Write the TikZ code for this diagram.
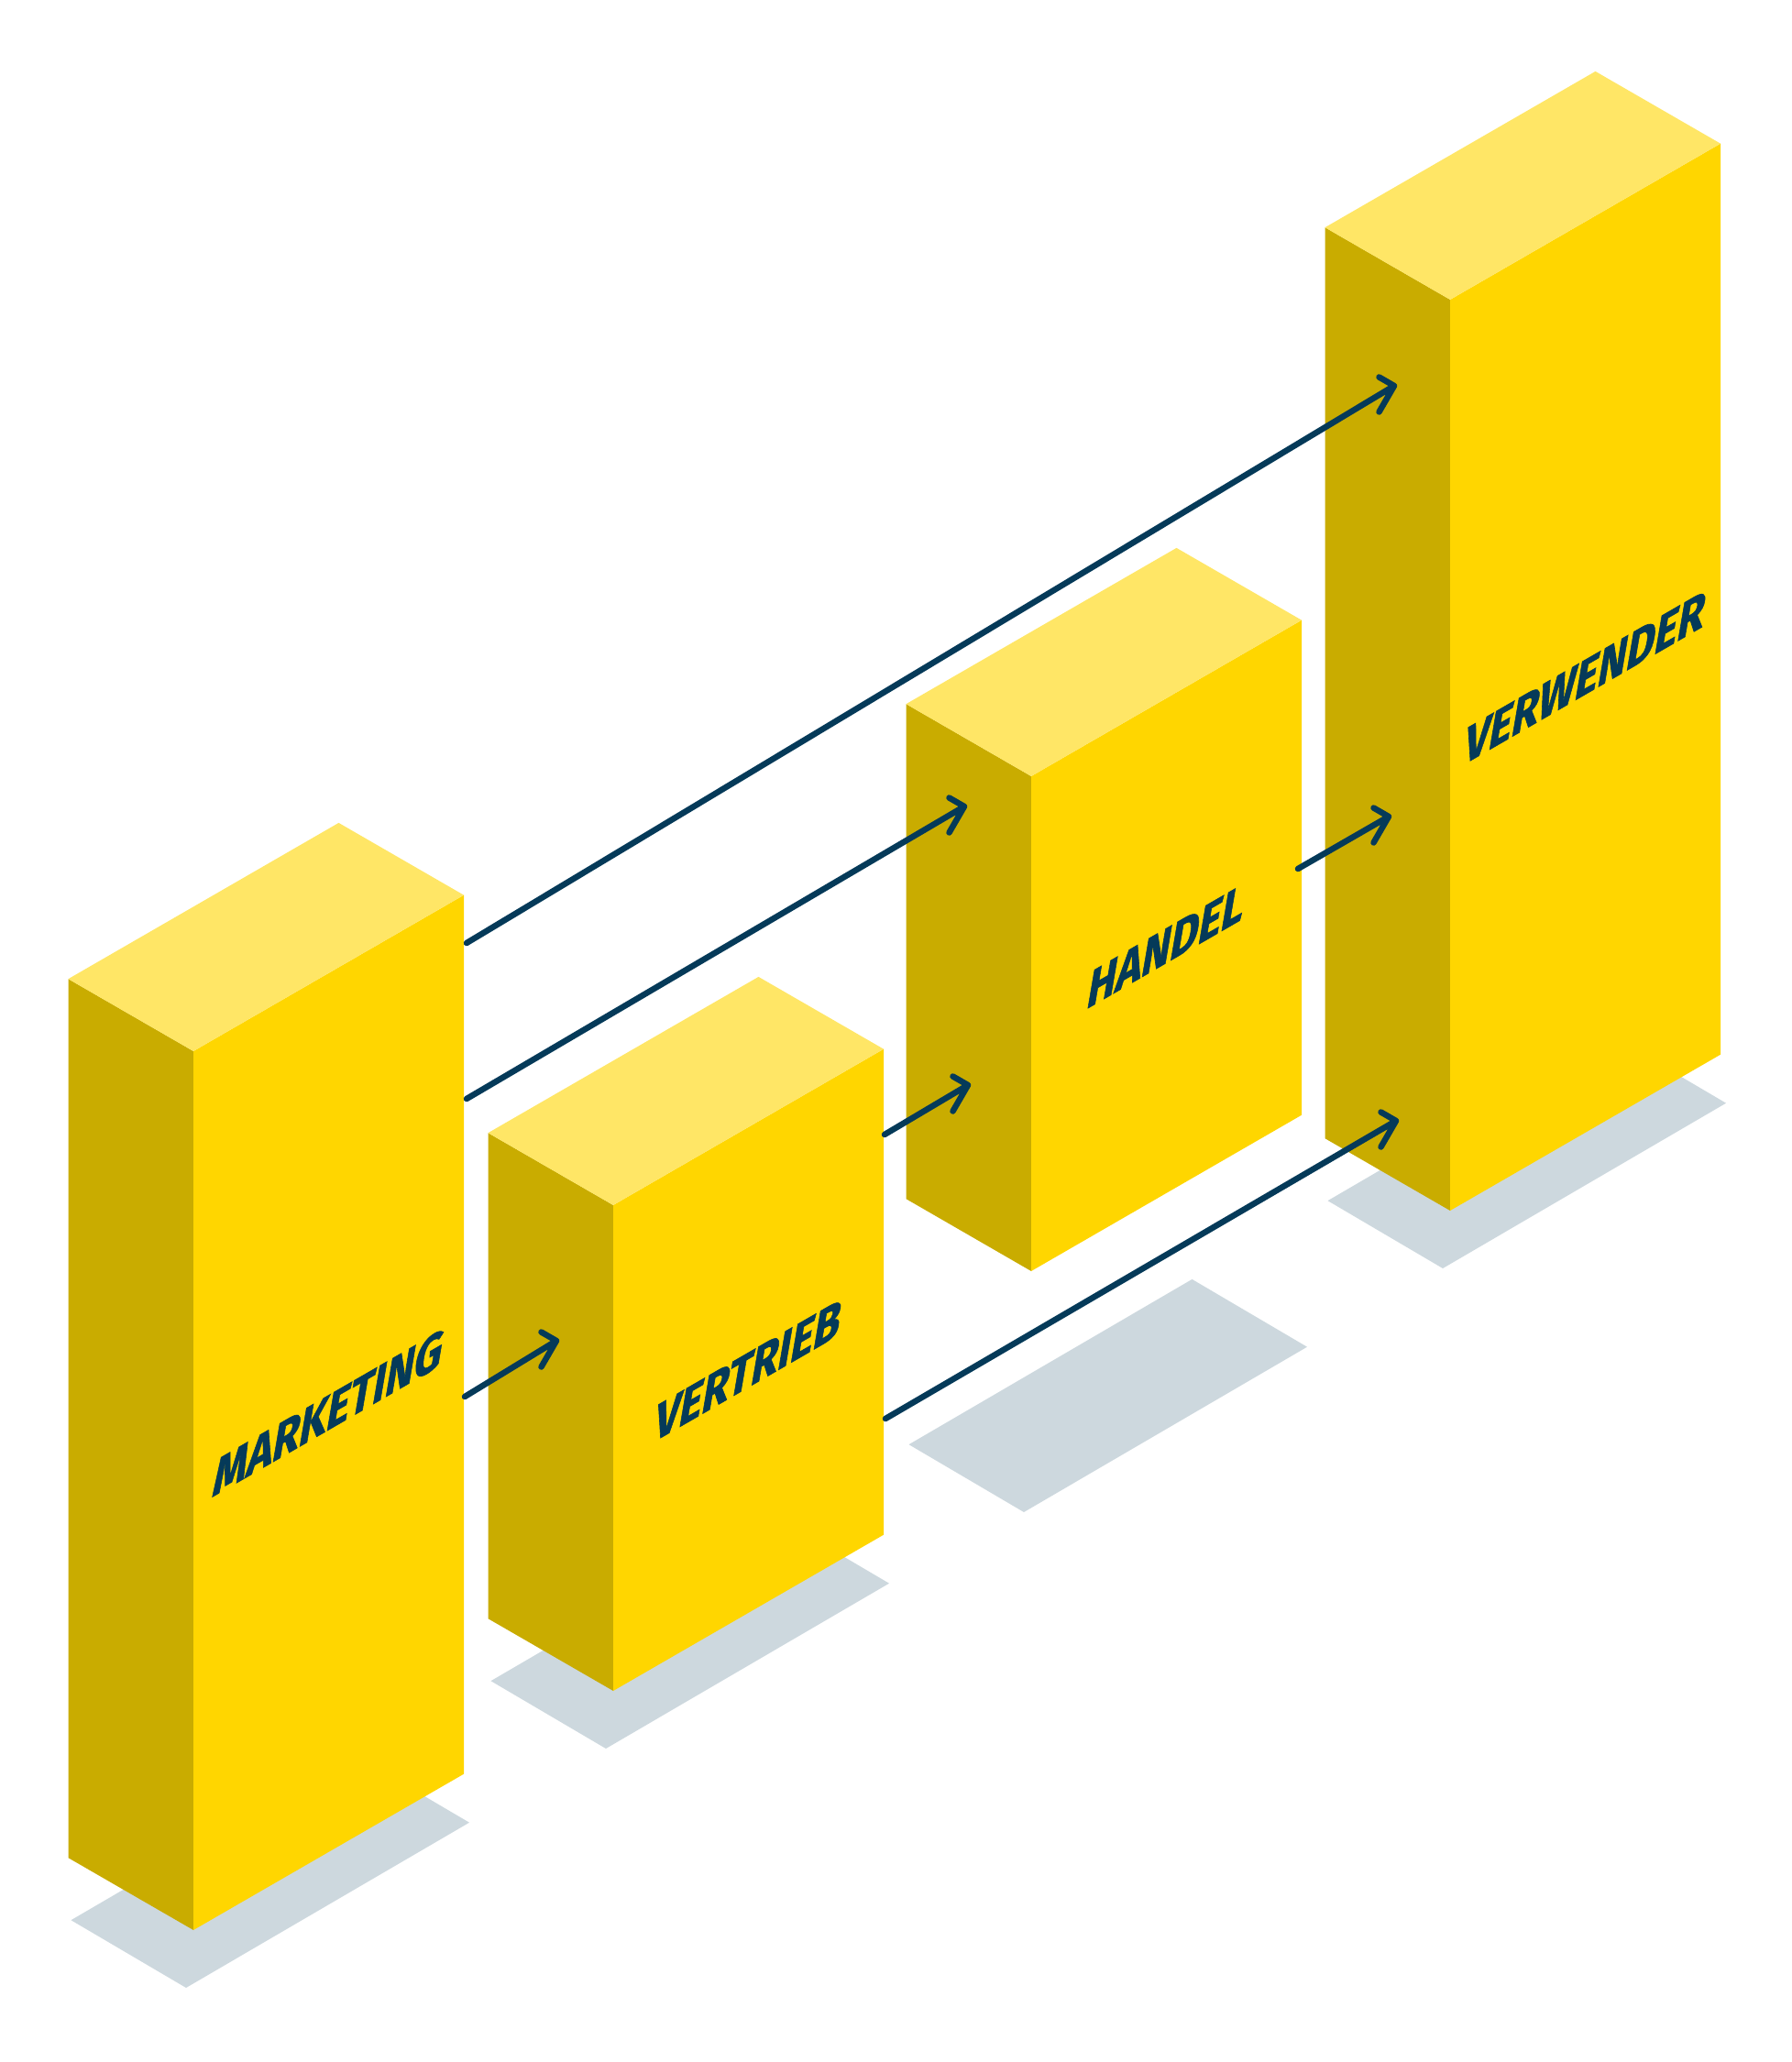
\documentclass[tikz,border=0pt]{standalone}
\usepackage{fontspec}
\setmainfont{Fira Sans}
\newfontfamily\labelfont[BoldFeatures={FakeBold=1.2}]{Fira Sans}
\usepackage{tikz}
\usetikzlibrary{arrows,calc}
\definecolor{boxfront}{RGB}{255,214,0}
\definecolor{boxside}{RGB}{201,172,0}
\definecolor{boxtop}{RGB}{255,230,102}
\definecolor{floorgray}{RGB}{205,216,222}
\definecolor{ink}{RGB}{5,58,89}

% #1 name, #2 top front corner, #3 height, #4 lift above ground, #5 text
\newcommand{\isobox}[5]{%
\begin{scope}[shift={#2}]
\fill[floorgray] ({-1.335},{0.108-#3-#4}) -- ({-0.08},{-0.63-#3-#4}) -- ({3.01},{1.173-#3-#4}) -- ({1.755},{1.911-#3-#4}) -- cycle;
\fill[boxside] (0,0) -- (-1.365,0.788) -- ({-1.365},{0.788-#3}) -- (0,-#3) -- cycle;
\fill[boxfront] (0,0) -- (2.95,1.703) -- ({2.95},{1.703-#3}) -- (0,-#3) -- cycle;
\fill[boxtop] (0,0) -- (-1.365,0.788) -- (1.585,2.491) -- (2.95,1.703) -- cycle;
\begin{scope}[cm={0.866,0.5,0.19,1.11,(1.475,{0.8515-#3/2})}]
\node[boxlabel] (#1) at (0,0) {#5};
\end{scope}
\end{scope}}
\newcommand{\flowarrow}[2]{\draw[flowline] (#1) -- (#2) ++(-0.165,0.095) -- (#2) -- ++(-0.165,-0.285);}

\begin{document}
\begin{tikzpicture}[boxlabel/.style={text=ink, inner sep=0pt, transform shape, font=\fontsize{15.5}{15.5}\selectfont\labelfont\bfseries},
  flowline/.style={draw=ink, line width=1.85pt, line cap=round, line join=round}]
\useasboundingbox (0,0) rectangle (19.54,-22.5);
\isobox{mk}{(2.11,-11.47)}{9.59}{0}{MARKETING}
\isobox{vt}{(6.69,-13.15)}{5.30}{0}{VERTRIEB}
\isobox{hd}{(11.25,-8.47)}{5.40}{2.0}{HANDEL}
\isobox{vw}{(15.82,-3.27)}{9.94}{0}{VERWENDER}
\coordinate (1) at (5.09,-10.29);
\coordinate (2) at (15.21,-4.21);
\coordinate (3) at (5.09,-11.99);
\coordinate (4) at (10.52,-8.80);
\coordinate (5) at (5.07,-15.24);
\coordinate (6) at (6.07,-14.63);
\coordinate (7) at (9.65,-12.38);
\coordinate (8) at (10.56,-11.84);
\coordinate (9) at (9.66,-15.48);
\coordinate (10) at (15.23,-12.23);
\coordinate (11) at (14.16,-9.48);
\coordinate (12) at (15.15,-8.91);
\flowarrow{1}{2}
\flowarrow{3}{4}
\flowarrow{5}{6}
\flowarrow{7}{8}
\flowarrow{9}{10}
\flowarrow{11}{12}
\end{tikzpicture}
\end{document}
